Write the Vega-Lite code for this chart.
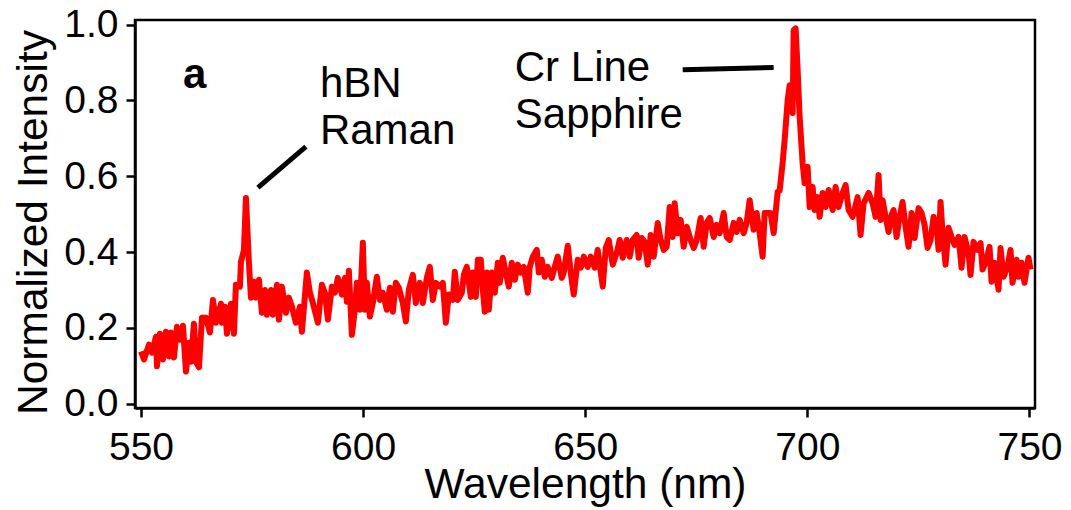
{
  "$schema": "https://vega.github.io/schema/vega-lite/v6.json",
  "width": 900,
  "height": 388,
  "autosize": {"type": "none"},
  "padding": {"left": 135, "top": 20, "right": 36, "bottom": 102},
  "background": "white",
  "config": {
    "view": {"stroke": "black", "strokeWidth": 2.5},
    "axis": {
      "grid": false,
      "domainColor": "black",
      "domainWidth": 2.5,
      "tickColor": "black",
      "tickWidth": 2.5,
      "tickSize": 9,
      "labelFont": "Liberation Sans",
      "labelFontSize": 39,
      "labelColor": "black",
      "titleFont": "Liberation Sans",
      "titleFontSize": 42.5,
      "titleFontWeight": "normal",
      "titleColor": "black"
    }
  },
  "layer": [
    {
      "data": {"values": [
        {"nm": 550.0, "intensity": 0.138}, {"nm": 550.67, "intensity": 0.117}, {"nm": 551.8, "intensity": 0.156}, {"nm": 552.47, "intensity": 0.135},
        {"nm": 553.37, "intensity": 0.177}, {"nm": 553.6, "intensity": 0.099}, {"nm": 554.27, "intensity": 0.185}, {"nm": 554.95, "intensity": 0.117},
        {"nm": 555.62, "intensity": 0.19}, {"nm": 556.3, "intensity": 0.125}, {"nm": 556.75, "intensity": 0.188}, {"nm": 557.42, "intensity": 0.122},
        {"nm": 558.1, "intensity": 0.203}, {"nm": 558.77, "intensity": 0.169}, {"nm": 559.45, "intensity": 0.206}, {"nm": 560.12, "intensity": 0.085},
        {"nm": 560.8, "intensity": 0.161}, {"nm": 561.25, "intensity": 0.111}, {"nm": 561.92, "intensity": 0.211}, {"nm": 562.37, "intensity": 0.111},
        {"nm": 563.05, "intensity": 0.096}, {"nm": 563.72, "intensity": 0.227}, {"nm": 564.62, "intensity": 0.227}, {"nm": 565.52, "intensity": 0.188},
        {"nm": 566.2, "intensity": 0.274}, {"nm": 566.87, "intensity": 0.214}, {"nm": 568.0, "intensity": 0.264}, {"nm": 568.22, "intensity": 0.214},
        {"nm": 568.9, "intensity": 0.256}, {"nm": 569.35, "intensity": 0.185}, {"nm": 570.25, "intensity": 0.264}, {"nm": 570.92, "intensity": 0.185},
        {"nm": 571.37, "intensity": 0.314}, {"nm": 572.27, "intensity": 0.309}, {"nm": 572.5, "intensity": 0.374}, {"nm": 573.17, "intensity": 0.405},
        {"nm": 573.62, "intensity": 0.543}, {"nm": 574.3, "intensity": 0.371}, {"nm": 574.75, "intensity": 0.28}, {"nm": 575.42, "intensity": 0.322},
        {"nm": 575.87, "intensity": 0.28}, {"nm": 576.55, "intensity": 0.327}, {"nm": 577.22, "intensity": 0.24}, {"nm": 577.9, "intensity": 0.3},
        {"nm": 578.35, "intensity": 0.235}, {"nm": 579.25, "intensity": 0.3}, {"nm": 579.7, "intensity": 0.235}, {"nm": 580.6, "intensity": 0.314},
        {"nm": 581.05, "intensity": 0.222}, {"nm": 581.72, "intensity": 0.309}, {"nm": 582.62, "intensity": 0.24}, {"nm": 583.29, "intensity": 0.28},
        {"nm": 583.97, "intensity": 0.256}, {"nm": 584.87, "intensity": 0.214}, {"nm": 585.77, "intensity": 0.256}, {"nm": 586.22, "intensity": 0.19},
        {"nm": 587.34, "intensity": 0.346}, {"nm": 588.02, "intensity": 0.293}, {"nm": 588.69, "intensity": 0.266}, {"nm": 589.82, "intensity": 0.214},
        {"nm": 590.72, "intensity": 0.314}, {"nm": 591.39, "intensity": 0.293}, {"nm": 592.07, "intensity": 0.222}, {"nm": 592.97, "intensity": 0.309},
        {"nm": 593.64, "intensity": 0.293}, {"nm": 594.32, "intensity": 0.332}, {"nm": 595.22, "intensity": 0.288}, {"nm": 595.89, "intensity": 0.332},
        {"nm": 596.34, "intensity": 0.269}, {"nm": 596.79, "intensity": 0.351}, {"nm": 597.47, "intensity": 0.182}, {"nm": 598.14, "intensity": 0.248},
        {"nm": 598.59, "intensity": 0.319}, {"nm": 599.27, "intensity": 0.248}, {"nm": 599.94, "intensity": 0.425}, {"nm": 600.39, "intensity": 0.248},
        {"nm": 600.84, "intensity": 0.319}, {"nm": 601.52, "intensity": 0.23}, {"nm": 602.19, "intensity": 0.266}, {"nm": 603.09, "intensity": 0.335},
        {"nm": 603.77, "intensity": 0.274}, {"nm": 604.44, "intensity": 0.293}, {"nm": 605.34, "intensity": 0.248}, {"nm": 606.02, "intensity": 0.306},
        {"nm": 606.69, "intensity": 0.243}, {"nm": 607.37, "intensity": 0.319}, {"nm": 608.04, "intensity": 0.306}, {"nm": 608.94, "intensity": 0.266},
        {"nm": 609.62, "intensity": 0.217}, {"nm": 610.29, "intensity": 0.301}, {"nm": 611.19, "intensity": 0.34}, {"nm": 611.87, "intensity": 0.266},
        {"nm": 612.77, "intensity": 0.319}, {"nm": 613.44, "intensity": 0.266}, {"nm": 614.34, "intensity": 0.332}, {"nm": 615.02, "intensity": 0.361},
        {"nm": 615.69, "intensity": 0.274}, {"nm": 616.37, "intensity": 0.319}, {"nm": 617.27, "intensity": 0.309}, {"nm": 617.94, "intensity": 0.319},
        {"nm": 618.62, "intensity": 0.214}, {"nm": 619.29, "intensity": 0.288}, {"nm": 620.19, "intensity": 0.274}, {"nm": 620.64, "intensity": 0.348},
        {"nm": 621.32, "intensity": 0.274}, {"nm": 622.22, "intensity": 0.293}, {"nm": 622.67, "intensity": 0.34}, {"nm": 623.34, "intensity": 0.361},
        {"nm": 624.24, "intensity": 0.282}, {"nm": 624.69, "intensity": 0.346}, {"nm": 625.37, "intensity": 0.282}, {"nm": 625.82, "intensity": 0.38},
        {"nm": 626.49, "intensity": 0.38}, {"nm": 626.94, "intensity": 0.301}, {"nm": 627.39, "intensity": 0.243}, {"nm": 627.84, "intensity": 0.346},
        {"nm": 628.29, "intensity": 0.248}, {"nm": 628.97, "intensity": 0.346}, {"nm": 629.64, "intensity": 0.293}, {"nm": 630.32, "intensity": 0.372},
        {"nm": 630.76, "intensity": 0.319}, {"nm": 631.44, "intensity": 0.385}, {"nm": 632.11, "intensity": 0.346}, {"nm": 632.79, "intensity": 0.309},
        {"nm": 633.46, "intensity": 0.372}, {"nm": 634.14, "intensity": 0.327}, {"nm": 634.81, "intensity": 0.367}, {"nm": 635.49, "intensity": 0.346},
        {"nm": 636.16, "intensity": 0.361}, {"nm": 637.06, "intensity": 0.293}, {"nm": 637.51, "intensity": 0.361}, {"nm": 638.19, "intensity": 0.388},
        {"nm": 639.09, "intensity": 0.406}, {"nm": 639.54, "intensity": 0.346}, {"nm": 640.21, "intensity": 0.38}, {"nm": 640.89, "intensity": 0.335},
        {"nm": 641.56, "intensity": 0.361}, {"nm": 642.46, "intensity": 0.332}, {"nm": 643.14, "intensity": 0.361}, {"nm": 643.81, "intensity": 0.388},
        {"nm": 644.71, "intensity": 0.332}, {"nm": 645.16, "intensity": 0.346}, {"nm": 646.06, "intensity": 0.417}, {"nm": 646.74, "intensity": 0.346},
        {"nm": 647.41, "intensity": 0.288}, {"nm": 648.31, "intensity": 0.38}, {"nm": 648.99, "intensity": 0.359}, {"nm": 649.66, "intensity": 0.388},
        {"nm": 650.56, "intensity": 0.361}, {"nm": 651.24, "intensity": 0.388}, {"nm": 652.14, "intensity": 0.359}, {"nm": 652.81, "intensity": 0.406},
        {"nm": 653.49, "intensity": 0.348}, {"nm": 653.94, "intensity": 0.309}, {"nm": 654.61, "intensity": 0.411}, {"nm": 655.29, "intensity": 0.432},
        {"nm": 656.19, "intensity": 0.367}, {"nm": 657.09, "intensity": 0.398}, {"nm": 657.76, "intensity": 0.432}, {"nm": 658.43, "intensity": 0.385},
        {"nm": 659.33, "intensity": 0.432}, {"nm": 660.01, "intensity": 0.388}, {"nm": 660.68, "intensity": 0.432}, {"nm": 661.58, "intensity": 0.445},
        {"nm": 662.03, "intensity": 0.385}, {"nm": 662.71, "intensity": 0.437}, {"nm": 663.38, "intensity": 0.427}, {"nm": 664.06, "intensity": 0.367},
        {"nm": 664.73, "intensity": 0.445}, {"nm": 665.41, "intensity": 0.388}, {"nm": 666.31, "intensity": 0.477}, {"nm": 666.98, "intensity": 0.432},
        {"nm": 667.66, "intensity": 0.406}, {"nm": 668.33, "intensity": 0.414}, {"nm": 669.01, "intensity": 0.519}, {"nm": 669.68, "intensity": 0.44},
        {"nm": 670.13, "intensity": 0.529}, {"nm": 670.81, "intensity": 0.45}, {"nm": 671.48, "intensity": 0.485}, {"nm": 672.16, "intensity": 0.414},
        {"nm": 672.83, "intensity": 0.467}, {"nm": 673.73, "intensity": 0.432}, {"nm": 674.41, "intensity": 0.411}, {"nm": 675.08, "intensity": 0.432},
        {"nm": 675.98, "intensity": 0.49}, {"nm": 676.66, "intensity": 0.414}, {"nm": 677.33, "intensity": 0.477}, {"nm": 678.01, "intensity": 0.49},
        {"nm": 678.91, "intensity": 0.44}, {"nm": 679.58, "intensity": 0.472}, {"nm": 680.26, "intensity": 0.45}, {"nm": 681.16, "intensity": 0.503},
        {"nm": 681.83, "intensity": 0.44}, {"nm": 682.51, "intensity": 0.432}, {"nm": 683.41, "intensity": 0.477}, {"nm": 684.08, "intensity": 0.453},
        {"nm": 684.76, "intensity": 0.485}, {"nm": 685.66, "intensity": 0.45}, {"nm": 686.33, "intensity": 0.477}, {"nm": 687.01, "intensity": 0.537},
        {"nm": 687.91, "intensity": 0.459}, {"nm": 688.58, "intensity": 0.503}, {"nm": 689.26, "intensity": 0.45}, {"nm": 689.93, "intensity": 0.388},
        {"nm": 690.38, "intensity": 0.503}, {"nm": 691.06, "intensity": 0.503}, {"nm": 691.73, "intensity": 0.503}, {"nm": 692.41, "intensity": 0.45},
        {"nm": 693.31, "intensity": 0.559}, {"nm": 693.76, "intensity": 0.562}, {"nm": 694.43, "intensity": 0.635}, {"nm": 694.88, "intensity": 0.695},
        {"nm": 695.56, "intensity": 0.8}, {"nm": 696.01, "intensity": 0.84}, {"nm": 696.69, "intensity": 0.767}, {"nm": 696.91, "intensity": 0.985},
        {"nm": 697.36, "intensity": 0.99}, {"nm": 697.81, "intensity": 0.88}, {"nm": 698.26, "intensity": 0.757}, {"nm": 698.93, "intensity": 0.635},
        {"nm": 699.38, "intensity": 0.582}, {"nm": 700.06, "intensity": 0.625}, {"nm": 700.51, "intensity": 0.519}, {"nm": 701.18, "intensity": 0.572},
        {"nm": 701.63, "intensity": 0.511}, {"nm": 702.31, "intensity": 0.545}, {"nm": 702.76, "intensity": 0.493}, {"nm": 703.43, "intensity": 0.556},
        {"nm": 704.11, "intensity": 0.519}, {"nm": 704.78, "intensity": 0.564}, {"nm": 705.68, "intensity": 0.511}, {"nm": 706.36, "intensity": 0.572},
        {"nm": 707.03, "intensity": 0.519}, {"nm": 707.93, "intensity": 0.556}, {"nm": 708.61, "intensity": 0.577}, {"nm": 709.28, "intensity": 0.511},
        {"nm": 710.18, "intensity": 0.493}, {"nm": 711.31, "intensity": 0.545}, {"nm": 711.98, "intensity": 0.445}, {"nm": 712.66, "intensity": 0.529},
        {"nm": 713.78, "intensity": 0.556}, {"nm": 714.68, "intensity": 0.529}, {"nm": 715.36, "intensity": 0.493}, {"nm": 716.03, "intensity": 0.603},
        {"nm": 716.48, "intensity": 0.485}, {"nm": 716.93, "intensity": 0.537}, {"nm": 717.61, "intensity": 0.493}, {"nm": 718.28, "intensity": 0.453},
        {"nm": 718.96, "intensity": 0.498}, {"nm": 719.41, "intensity": 0.511}, {"nm": 720.08, "intensity": 0.44}, {"nm": 720.76, "intensity": 0.493},
        {"nm": 721.43, "intensity": 0.532}, {"nm": 722.11, "intensity": 0.467}, {"nm": 722.78, "intensity": 0.414}, {"nm": 723.46, "intensity": 0.503},
        {"nm": 724.13, "intensity": 0.437}, {"nm": 725.03, "intensity": 0.516}, {"nm": 725.71, "intensity": 0.503}, {"nm": 726.38, "intensity": 0.472},
        {"nm": 727.06, "intensity": 0.411}, {"nm": 727.73, "intensity": 0.432}, {"nm": 728.41, "intensity": 0.493}, {"nm": 729.08, "intensity": 0.467},
        {"nm": 729.53, "intensity": 0.406}, {"nm": 729.98, "intensity": 0.532}, {"nm": 730.43, "intensity": 0.45}, {"nm": 731.11, "intensity": 0.367},
        {"nm": 731.78, "intensity": 0.464}, {"nm": 732.46, "intensity": 0.44}, {"nm": 733.13, "intensity": 0.419}, {"nm": 734.03, "intensity": 0.44},
        {"nm": 734.71, "intensity": 0.359}, {"nm": 735.38, "intensity": 0.44}, {"nm": 736.28, "intensity": 0.398}, {"nm": 736.73, "intensity": 0.34},
        {"nm": 737.41, "intensity": 0.427}, {"nm": 738.31, "intensity": 0.406}, {"nm": 738.98, "intensity": 0.424}, {"nm": 739.43, "intensity": 0.354},
        {"nm": 740.11, "intensity": 0.372}, {"nm": 741.01, "intensity": 0.414}, {"nm": 741.46, "intensity": 0.322}, {"nm": 742.13, "intensity": 0.372},
        {"nm": 743.03, "intensity": 0.301}, {"nm": 743.48, "intensity": 0.411}, {"nm": 744.16, "intensity": 0.335}, {"nm": 745.06, "intensity": 0.361},
        {"nm": 745.73, "intensity": 0.406}, {"nm": 746.18, "intensity": 0.319}, {"nm": 747.08, "intensity": 0.38}, {"nm": 747.53, "intensity": 0.335},
        {"nm": 748.21, "intensity": 0.372}, {"nm": 748.88, "intensity": 0.319}, {"nm": 749.78, "intensity": 0.385}, {"nm": 750.23, "intensity": 0.354}
      ]},
      "mark": {"type": "line", "color": "#ff0000", "strokeWidth": 6, "strokeJoin": "round"},
      "encoding": {
        "x": {"field": "nm", "type": "quantitative",
          "scale": {"domain": [548.65, 751.24], "nice": false, "zero": false},
          "axis": {"title": "Wavelength (nm)", "values": [550, 600, 650, 700, 750], "format": "d", "labelPadding": 11, "titleBaseline": "alphabetic", "titleY": 89}},
        "y": {"field": "intensity", "type": "quantitative",
          "scale": {"domain": [-0.011, 1.012], "nice": false, "zero": false},
          "axis": {"title": "Normalized Intensity", "values": [0, 0.2, 0.4, 0.6, 0.8, 1.0], "format": ".1f", "labelPadding": 8, "titlePadding": 8, "titleY": 202}}
      }
    },
    {
      "data": {"values": [
        {"nm": 576.32, "intensity": 0.570, "nm2": 587.12, "intensity2": 0.678},
        {"nm": 671.93, "intensity": 0.881, "nm2": 692.41, "intensity2": 0.887}
      ]},
      "mark": {"type": "rule", "color": "black", "strokeWidth": 5},
      "encoding": {
        "x": {"field": "nm", "type": "quantitative"},
        "y": {"field": "intensity", "type": "quantitative"},
        "x2": {"field": "nm2"},
        "y2": {"field": "intensity2"}
      }
    },
    {
      "data": {"values": [
        {"nm": 590.27, "intensity": 0.808, "label": "hBN"},
        {"nm": 590.27, "intensity": 0.684, "label": "Raman"},
        {"nm": 634.14, "intensity": 0.850, "label": "Cr Line"},
        {"nm": 634.14, "intensity": 0.728, "label": "Sapphire"}
      ]},
      "mark": {"type": "text", "align": "left", "baseline": "alphabetic", "font": "Liberation Sans", "fontSize": 42, "color": "black"},
      "encoding": {
        "x": {"field": "nm", "type": "quantitative"},
        "y": {"field": "intensity", "type": "quantitative"},
        "text": {"field": "label"}
      }
    },
    {
      "data": {"values": [
        {"nm": 559.45, "intensity": 0.834, "label": "a"}
      ]},
      "mark": {"type": "text", "align": "left", "baseline": "alphabetic", "font": "Liberation Sans", "fontSize": 42, "fontWeight": "bold", "color": "black"},
      "encoding": {
        "x": {"field": "nm", "type": "quantitative"},
        "y": {"field": "intensity", "type": "quantitative"},
        "text": {"field": "label"}
      }
    }
  ]
}
